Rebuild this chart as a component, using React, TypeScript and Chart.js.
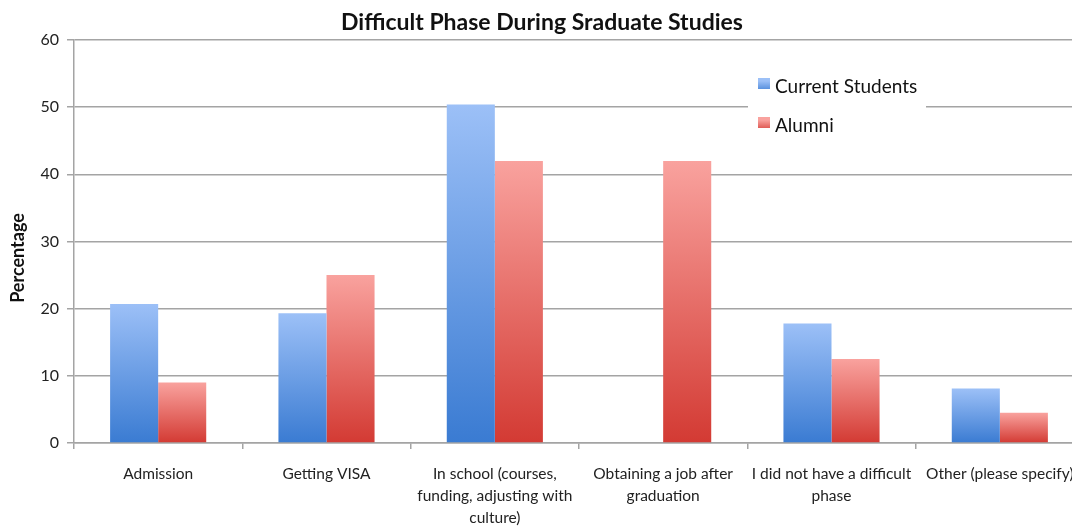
import React, { useEffect, useRef } from "react";
import { Chart, registerables } from "chart.js";

Chart.register(...registerables);

const categories: (string | string[])[] = [
  "Admission",
  "Getting VISA",
  ["In school (courses,", "funding, adjusting with", "culture)"],
  ["Obtaining a job after", "graduation"],
  ["I did not have a difficult", "phase"],
  "Other (please specify)",
];
const currentStudents = [20.7, 19.3, 50.4, 0, 17.8, 8.1];
const alumni = [9.0, 25.0, 42.0, 42.0, 12.5, 4.5];
const seriesNames = ["Current Students", "Alumni"];
const yTicks = { min: 0, max: 60, step: 10 };
const titleText = "Difficult Phase During Sraduate Studies";
const yTitleText = "Percentage";

const BLUE_TOP = "#9cc0f7";
const BLUE_BOTTOM = "#3a7bd2";
const RED_TOP = "#f9a29e";
const RED_BOTTOM = "#d33a33";
const GRID = "#a4a4a4";
const FONT = "Lato, 'Noto Sans', sans-serif";

const gradientFill = (top: string, bottom: string) => (ctx: any) => {
  const chart = ctx.chart;
  const { chartArea, scales } = chart;
  if (!chartArea || ctx.type !== "data" || !scales.y) return bottom;
  const y0 = scales.y.getPixelForValue(0);
  const y1 = scales.y.getPixelForValue(ctx.raw);
  if (!isFinite(y0) || !isFinite(y1) || Math.abs(y0 - y1) < 1) return bottom;
  const g = chart.ctx.createLinearGradient(0, y1, 0, y0);
  g.addColorStop(0, top);
  g.addColorStop(1, bottom);
  return g;
};

const extrasPlugin = {
  id: "extras",
  afterDraw(chart: any) {
    const c = chart.ctx;
    c.save();
    // y-axis title
    c.translate(18, 258);
    c.rotate(-Math.PI / 2);
    c.font = `bold 18px ${FONT}`;
    c.fillStyle = "#111";
    c.textAlign = "center";
    c.textBaseline = "middle";
    c.fillText(yTitleText, 0, 0);
    c.restore();

    // legend
    c.save();
    c.fillStyle = "#ffffff";
    c.fillRect(748, 62, 178, 88);
    const items = [
      { name: seriesNames[0], top: BLUE_TOP, bottom: BLUE_BOTTOM, y: 87 },
      { name: seriesNames[1], top: RED_TOP, bottom: RED_BOTTOM, y: 126 },
    ];
    for (const it of items) {
      const g = c.createLinearGradient(0, it.y - 6, 0, it.y + 6);
      g.addColorStop(0, it.top);
      g.addColorStop(1, it.bottom);
      c.fillStyle = g;
      c.fillRect(758, it.y - 9, 12, 11);
      c.fillStyle = "#111";
      c.font = `19px ${FONT}`;
      c.textAlign = "left";
      c.textBaseline = "middle";
      c.fillText(it.name, 775, it.y);
    }
    c.restore();
  },
};

export default function App() {
  const ref = useRef<HTMLCanvasElement | null>(null);

  useEffect(() => {
    if (!ref.current) return;
    const chart = new Chart(ref.current, {
      type: "bar",
      data: {
        labels: categories as any,
        datasets: [
          {
            label: seriesNames[0],
            data: currentStudents,
            backgroundColor: gradientFill(BLUE_TOP, BLUE_BOTTOM) as any,
            borderWidth: 0,
          },
          {
            label: seriesNames[1],
            data: alumni,
            backgroundColor: gradientFill(RED_TOP, RED_BOTTOM) as any,
            borderWidth: 0,
          },
        ],
      },
      options: {
        responsive: false,
        animation: false,
        events: [],
        layout: { padding: { left: 0, right: 13, top: 0, bottom: 0 } },
        datasets: {
          bar: { categoryPercentage: 0.571, barPercentage: 1.0 },
        },
        plugins: {
          legend: { display: false },
          tooltip: { enabled: false },
          title: {
            display: true,
            text: titleText,
            color: "#111",
            font: { family: FONT, size: 23, weight: "bold", lineHeight: 1.2 },
            padding: { top: 9, bottom: 3.4 },
          },
        },
        scales: {
          x: {
            grid: {
              display: true,
              drawOnChartArea: false,
              drawTicks: true,
              tickLength: 6,
              color: GRID,
              lineWidth: 1.5,
              offset: true,
            },
            border: { display: true, color: GRID, width: 1.5 },
            ticks: {
              color: "#222",
              font: { family: FONT, size: 15.5, lineHeight: 1.42 },
              padding: 14,
              maxRotation: 0,
              minRotation: 0,
              autoSkip: false,
            },
            afterFit: (s: any) => {
              s.height = 86;
            },
          },
          y: {
            min: yTicks.min,
            max: yTicks.max,
            grid: {
              color: GRID,
              lineWidth: 1.5,
              tickLength: 7,
              drawTicks: true,
            },
            border: { display: true, color: GRID, width: 1.5 },
            ticks: {
              stepSize: yTicks.step,
              color: "#222",
              font: { family: FONT, size: 16 },
              padding: 8,
            },
            afterFit: (s: any) => {
              s.width = 74;
            },
          },
        },
      },
      plugins: [extrasPlugin],
    });
    return () => chart.destroy();
  }, []);

  return (
    <div
      style={{
        position: "fixed",
        left: 0,
        top: 0,
        width: 1072,
        height: 529,
        overflow: "hidden",
        background: "#fff",
      }}
    >
      <canvas ref={ref} width={1097} height={529} style={{ display: "block" }} />
    </div>
  );
}
